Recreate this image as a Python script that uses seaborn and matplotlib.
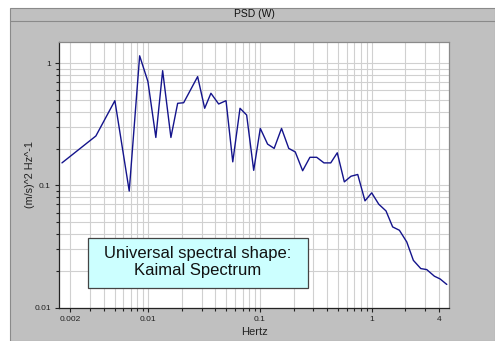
import numpy as np
import pandas as pd
import matplotlib
matplotlib.use("Agg")
import matplotlib.pyplot as plt
from matplotlib.patches import Rectangle
from matplotlib.lines import Line2D
from matplotlib.ticker import LogLocator, FixedLocator, NullFormatter
import seaborn as sns

freq_hz = [0.00169, 0.0034, 0.00503, 0.00676, 0.00838, 0.00994, 0.0117, 0.01346,
           0.01596, 0.01834, 0.02075, 0.02768, 0.032, 0.0364, 0.0427, 0.0497,
           0.0571, 0.0663, 0.076, 0.0879, 0.1007, 0.117, 0.134, 0.156, 0.181,
           0.207, 0.241, 0.28, 0.322, 0.374, 0.430, 0.492, 0.569, 0.653, 0.75,
           0.871, 1.0, 1.156, 1.343, 1.54, 1.77, 2.06, 2.36, 2.75, 3.11, 3.64,
           4.09, 4.70]
psd = [0.153, 0.254, 0.494, 0.090, 1.15, 0.707, 0.247, 0.869,
       0.247, 0.470, 0.475, 0.777, 0.428, 0.568, 0.464, 0.494,
       0.156, 0.428, 0.377, 0.133, 0.293, 0.218, 0.201, 0.293, 0.201,
       0.188, 0.132, 0.170, 0.170, 0.153, 0.153, 0.185, 0.107, 0.119, 0.123,
       0.0748, 0.087, 0.0703, 0.0619, 0.0458, 0.043, 0.0345, 0.0244, 0.0209, 0.0205, 0.0181,
       0.0172, 0.0155]
x_tick_values = [0.002, 0.01, 0.1, 1, 4]
x_tick_labels = ["0.002", "0.01", "0.1", "1", "4"]
y_tick_values = [0.01, 0.1, 1]
y_tick_labels = ["0.01", "0.1", "1"]
title_text = "PSD (W)"
x_label = "Hertz"
y_label = "(m/s)^2 Hz^-1"
note_text = "Universal spectral shape:\nKaimal Spectrum"

df = pd.DataFrame({"Hertz": freq_hz, "PSD": psd})

sns.set_style("white")
plt.rcParams['font.family'] = ['Liberation Sans', 'DejaVu Sans']

W, H = 495, 341
fig = plt.figure(figsize=(W / 100, H / 100), dpi=100, facecolor="white")

def fx(px):
    return px / W

def fy(py):
    return 1 - py / H

# window panel
fig.patches.append(Rectangle((fx(10), 0), 1 - fx(10), fy(7.5), transform=fig.transFigure,
                             facecolor="#c0c0c0", edgecolor="#8a8a8a", lw=0.8, zorder=-5))
fig.lines.append(Line2D([fx(10), 1], [fy(20.5), fy(20.5)], transform=fig.transFigure,
                        color="#8a8a8a", lw=0.8, zorder=-4))
fig.text(fx(254), fy(14), title_text, ha="center", va="center", fontsize=7.5, color="#111111")

ax = fig.add_axes([fx(59.3), fy(307.7), fx(449.3) - fx(59.3), fy(41.7) - fy(307.7)])
ax.set_zorder(1)
ax.set_facecolor("white")

sns.lineplot(data=df, x="Hertz", y="PSD", ax=ax, color="#14148c", lw=1.0, zorder=5)

ax.set_xscale("log")
ax.set_yscale("log")
ax.set_xlim(0.0016, 4.95)
ax.set_ylim(0.01, 1.5)

ax.xaxis.set_major_locator(FixedLocator(x_tick_values))
ax.set_xticklabels(x_tick_labels)
ax.xaxis.set_minor_locator(LogLocator(base=10, subs=np.arange(2, 10)))
ax.xaxis.set_minor_formatter(NullFormatter())
ax.yaxis.set_major_locator(FixedLocator(y_tick_values))
ax.set_yticklabels(y_tick_labels)
ax.yaxis.set_minor_locator(LogLocator(base=10, subs=np.arange(2, 10)))
ax.yaxis.set_minor_formatter(NullFormatter())

ax.grid(True, which="both", color="#d0d0d0", lw=0.8)
ax.set_axisbelow(True)

ax.tick_params(axis="both", which="major", direction="out", length=3, width=0.8,
               labelsize=6, colors="#222222", pad=3)
ax.tick_params(axis="both", which="minor", direction="out", length=2, width=0.8, colors="#222222")
ax.tick_params(axis="x", which="both", bottom=True)
ax.tick_params(axis="y", which="both", left=True)

for s in ["left", "bottom"]:
    ax.spines[s].set_color("#222222")
    ax.spines[s].set_linewidth(0.9)
for s in ["top", "right"]:
    ax.spines[s].set_color("#8a8a8a")
    ax.spines[s].set_linewidth(0.9)

ax.set_xlabel("")
ax.set_ylabel("")
fig.text(fx(255), fy(332), x_label, ha="center", va="center", fontsize=8, color="#222222")
fig.text(fx(30), fy(175), y_label, ha="center", va="center", rotation=90, fontsize=7.8,
         color="#222222")

# annotation box
fig.patches.append(Rectangle((fx(87.7), fy(288.3)), fx(307.7) - fx(87.7), fy(237.7) - fy(288.3),
                             transform=fig.transFigure, facecolor="#ccffff",
                             edgecolor="#444444", lw=0.9, zorder=10))
fig.text(fx(197.7), fy(262), note_text, ha="center", va="center", fontsize=12,
         color="#111111", linespacing=1.2, zorder=11)

fig.savefig("out.png", dpi=100, facecolor=fig.get_facecolor())
